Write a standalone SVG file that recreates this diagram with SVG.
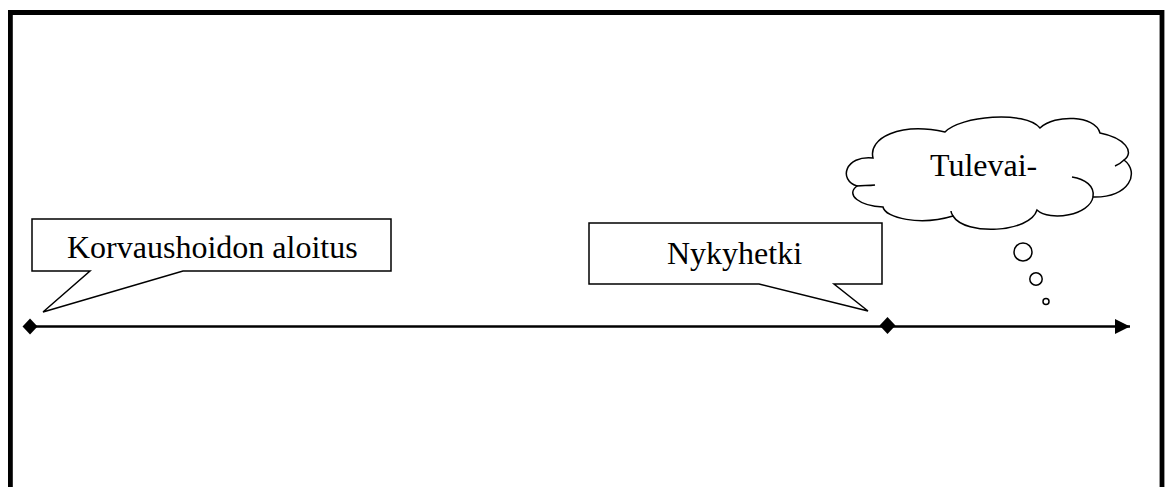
<svg xmlns="http://www.w3.org/2000/svg" width="1165" height="487" viewBox="0 0 1165 487">
<style>
.frame{fill:none;stroke:#000;stroke-width:4.8}
.shape{fill:#fff;stroke:#000;stroke-width:1.5;stroke-linejoin:miter}
.thin{fill:none;stroke:#000;stroke-width:1.5}
.lbl{font-family:"Liberation Serif","Times New Roman",serif;font-size:32px;fill:#000}
.axis{fill:none;stroke:#000;stroke-width:2.6}
.dia{fill:#000}
</style>
<defs>
<marker id="arrow" markerWidth="16" markerHeight="16" refX="15" refY="7.5" orient="auto" markerUnits="userSpaceOnUse">
<path d="M0,0 L15,7.5 L0,15 Z" fill="#000"/>
</marker>
</defs>
<rect width="1165" height="487" fill="#fff"/>
<path class="frame" d="M10.4,487 V12.5 H1162 V487"/>
<g id="connectors">
<line class="axis" x1="30" y1="326.5" x2="1130" y2="326.5" marker-end="url(#arrow)"/>
<path class="dia" d="M30,318.5 L37.5,326.5 L30,334.5 L22.5,326.5 Z"/>
<path class="dia" d="M887.5,317 L895.5,325.5 L887.5,334 L879.5,325.5 Z"/>
</g>
<g id="callout-start">
<path class="shape" d="M32,219 H391 V271 H183 L43,312 L90,271 H32 Z"/>
<text class="lbl" x="67" y="258">Korvaushoidon aloitus</text>
</g>
<g id="callout-now">
<path class="shape" d="M589,223 H882 V284 H834 L868,311 L759,284 H589 Z"/>
<text class="lbl" x="667" y="264">Nykyhetki</text>
</g>
<g id="cloud-future">
<path class="shape" d="M873,158 C868,138 900,122 945,132 C960,116 1025,110 1040,128 C1055,114 1095,115 1100,133 C1125,138 1135,152 1124,160 C1140,172 1130,198 1093,197 C1090,215 1050,222 1037,210 C1030,233 965,236 953,216 C920,226 885,218 883,207 C860,206 845,195 857,186 C838,180 845,155 873,158 Z"/>
<path class="thin" d="M857,186 C862,185 868,186 875,185"/>
<path class="thin" d="M1124,160 Q1120,164 1115,166"/>
<path class="thin" d="M1072,177 C1085,179 1095,186 1093,197"/>
<path class="thin" d="M953,216 Q951,213 951,211"/>
<text class="lbl" x="930" y="176">Tulevai-</text>
<circle class="shape" cx="1023" cy="252" r="9"/>
<circle class="shape" cx="1036" cy="279" r="6.2"/>
<circle class="shape" cx="1046" cy="301.5" r="3"/>
</g>
</svg>
